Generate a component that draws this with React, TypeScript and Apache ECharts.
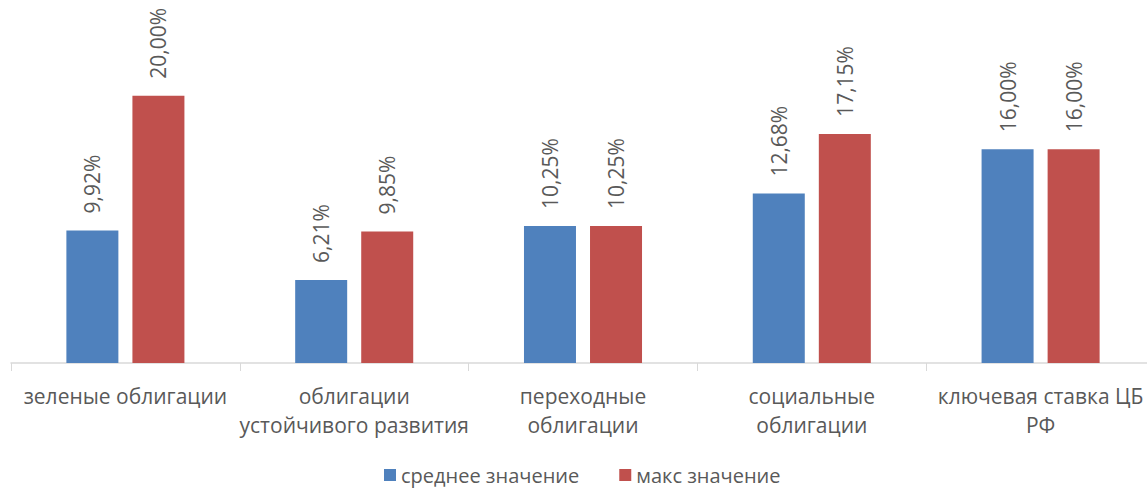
import React, { useEffect, useRef } from "react";
import * as echarts from "echarts";

const categories = [
  "зеленые облигации",
  "облигации\nустойчивого развития",
  "переходные\nоблигации",
  "социальные\nоблигации",
  "ключевая ставка ЦБ\nРФ",
];
const seriesNames = ["среднее значение", "макс значение"];
const avgValues = [9.92, 6.21, 10.25, 12.68, 16.0];
const maxValues = [20.0, 9.85, 10.25, 17.15, 16.0];
const colors = ["#4F81BD", "#C0504D"];

const FONT = "Open Sans";
const TEXT = "#595959";

export default function App() {
  const ref = useRef<HTMLDivElement>(null);
  useEffect(() => {
    if (!ref.current) return;
    const chart = echarts.init(ref.current, undefined, { renderer: "svg" });
    const fmt = (p: any) => p.value.toFixed(2).replace(".", ",") + "%";
    const label = {
      show: true,
      position: "top",
      rotate: 90,
      align: "left",
      verticalAlign: "middle",
      distance: 17,
      formatter: fmt,
      color: TEXT,
      fontFamily: FONT,
      fontSize: 21,
    };
    chart.setOption({
      animation: false,
      textStyle: { fontFamily: FONT },
      legend: {
        data: seriesNames,
        left: 384,
        top: 465,
        padding: 0,
        itemWidth: 12,
        itemHeight: 12,
        itemGap: 40,
        icon: "rect",
        textStyle: { color: TEXT, fontFamily: FONT, fontSize: 20, lineHeight: 20 },
      },
      grid: { left: 11, right: 0, top: 29, bottom: 125, containLabel: false },
      xAxis: {
        type: "category",
        data: categories,
        axisLine: { lineStyle: { color: "#D9D9D9", width: 1.5 } },
        axisTick: { show: true, length: 8, lineStyle: { color: "#D9D9D9" } },
        axisLabel: {
          interval: 0,
          color: TEXT,
          fontFamily: FONT,
          fontSize: 21,
          lineHeight: 29,
          margin: 18,
        },
      },
      yAxis: {
        type: "value",
        min: 0,
        max: 25,
        show: false,
        splitLine: { show: false },
      },
      series: [
        {
          name: seriesNames[0],
          type: "bar",
          data: avgValues,
          barWidth: 52,
          barGap: "27%",
          itemStyle: { color: colors[0] },
          label,
        },
        {
          name: seriesNames[1],
          type: "bar",
          data: maxValues,
          barWidth: 52,
          barGap: "27%",
          itemStyle: { color: colors[1] },
          label,
        },
      ],
    });
    return () => chart.dispose();
  }, []);
  return (
    <div
      ref={ref}
      style={{ position: "fixed", left: 0, top: 0, width: 1155, height: 488, background: "#fff" }}
    />
  );
}
